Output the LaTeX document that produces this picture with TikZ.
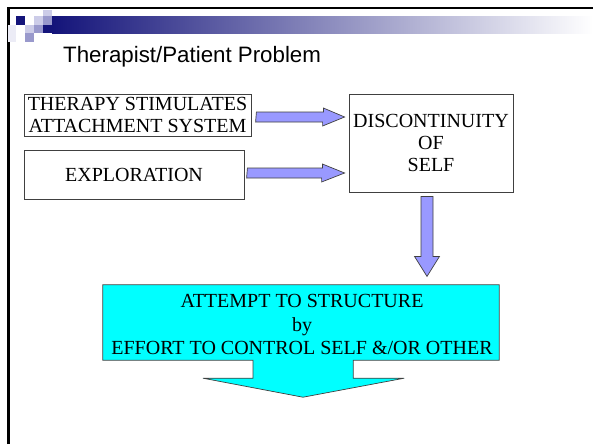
\documentclass[tikz,border=0pt]{standalone}
\usepackage{fontspec}
\setmainfont{Liberation Serif}
\newfontfamily\arialfont{Liberation Sans}
\usetikzlibrary{calc}

\definecolor{navyblue}{RGB}{20,20,122}
\definecolor{lightlav}{RGB}{204,204,232}
\definecolor{midlav}{RGB}{153,153,204}
\definecolor{palelav}{RGB}{236,236,246}
\definecolor{barmid}{RGB}{196,198,222}
\definecolor{arrowlav}{RGB}{153,153,255}
\definecolor{boxline}{RGB}{64,64,64}
\definecolor{aqua}{RGB}{0,255,255}

\tikzset{
  textbox/.style={draw=boxline, line width=0.8pt, fill=white, align=center,
    inner sep=0pt, font=\fontsize{20}{22}\selectfont},
  lavarrow/.style={draw=boxline, line width=0.7pt, fill=arrowlav},
  aquaarrow/.style={draw=boxline, line width=0.7pt, fill=aqua}
}

\begin{document}
\begin{tikzpicture}[x=1pt,y=-1pt]
  \useasboundingbox (0,0) rectangle (593,444);
  \fill[white] (0,0) rectangle (593,444);

  % slide frame
  \draw[line width=2.5pt] (8.5,444) -- (8.5,8) -- (593,8);

  % header ornament: squares and fading bar
  \fill[palelav] (8,25) rectangle (16,42);
  \fill[navyblue] (16,16.5) rectangle (25,25);
  \fill[lightlav] (33.5,16.5) rectangle (43,25);
  \fill[lightlav] (43,10) rectangle (52,16.5);
  \fill[midlav] (43,16.5) rectangle (52,25);
  \fill[lightlav] (25,25) rectangle (33.5,33.5);
  \fill[midlav] (33.5,25) rectangle (43,33.5);
  \fill[navyblue] (43,25) rectangle (52,33.5);
  \fill[midlav] (25,33.5) rectangle (33.5,42);
  \shade[left color=navyblue, middle color=barmid, right color=white]
    (52,16.5) rectangle (593,33.5);

  % title
  \node[anchor=base west, inner sep=0pt, font=\arialfont\fontsize{22.3}{26}\selectfont]
    (title) at (63,62) {Therapist/Patient Problem};

  % boxes
  \node[textbox, minimum width=227pt, minimum height=42pt] (therapy) at (137.5,115)
    {THERAPY STIMULATES\\ATTACHMENT SYSTEM};
  \node[textbox, minimum width=220pt, minimum height=49pt] (explore) at (134,174.5)
    {EXPLORATION};
  \node[textbox, minimum width=164pt, minimum height=98pt] (disc) at (431,143)
    {DISCONTINUITY\\OF\\SELF};

  % block arrow anchors
  \coordinate (a1s) at ($(therapy.east)+(5,2)$);
  \coordinate (a1e) at ($(disc.west)+(-4,-26)$);
  \coordinate (a2s) at ($(explore.east)+(3,-1.5)$);
  \coordinate (a2e) at ($(disc.west)+(-4,30)$);
  \coordinate (d1s) at ($(disc.south)+(-4,4)$);
  \coordinate (d1e) at ($(disc.south)+(-4,84)$);

  % horizontal block arrows
  \draw[lavarrow] (a1s) ++(0,-5) -- ++(67,0) -- ++(0,-4) -- (a1e)
    -- ++(-22,9) -- ++(0,-4) -- ++(-67,0) -- cycle;
  \draw[lavarrow] (a2s) ++(0,-5) -- ++(75,0) -- ++(0,-4) -- (a2e)
    -- ++(-23,9) -- ++(0,-4) -- ++(-75,0) -- cycle;
  % vertical block arrow
  \draw[lavarrow] (d1s) ++(-6,0) -- ++(0,60) -- ++(-6.5,0) -- (d1e)
    -- ++(12.5,-20) -- ++(-6.5,0) -- ++(0,-60) -- cycle;

  % callout block with downward arrow
  \node[inner sep=0pt, minimum width=396pt, minimum height=75pt] (attempt) at (301,322.5) {};
  \draw[aquaarrow] (attempt.north west) -- (attempt.north east) -- (attempt.south east)
    -- ++(-146,0) -- ++(0,18) -- ++(51,0) -- ($(attempt.south)+(2,37)$)
    -- ($(attempt.south)+(-98,18)$) -- ++(50,0) -- ++(0,-18) -- (attempt.south west) -- cycle;
  \node[align=center, inner sep=0pt, font=\fontsize{20}{23.5}\selectfont]
    (attempttext) at ($(attempt.center)+(1,2)$)
    {ATTEMPT TO STRUCTURE\\by\\EFFORT TO CONTROL SELF \&/OR OTHER};
\end{tikzpicture}
\end{document}
